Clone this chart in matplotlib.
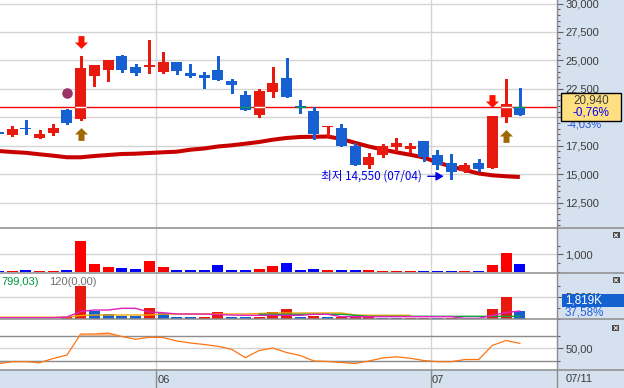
import numpy as np
import matplotlib
matplotlib.use("Agg")
import matplotlib.pyplot as plt
from matplotlib.patches import Rectangle
from matplotlib.lines import Line2D
from matplotlib.path import Path
from matplotlib.transforms import offset_copy
from matplotlib.ticker import FixedLocator, FuncFormatter

plt.rcParams['font.family'] = ['Liberation Sans', 'DejaVu Sans']

# trading days (2022)
dates = ["05/16", "05/17", "05/18", "05/19", "05/20", "05/23", "05/24", "05/25", "05/26", "05/27", "05/30", "05/31",
         "06/02", "06/03", "06/07", "06/08", "06/09", "06/10", "06/13", "06/14", "06/15", "06/16", "06/17",
         "06/20", "06/21", "06/22", "06/23", "06/24", "06/27", "06/28", "06/29", "06/30",
         "07/01", "07/04", "07/05", "07/06", "07/07", "07/08", "07/11"]

opens = [18700, 18450, 19050, 18210, 18650, 20640, 19880, 23630, 24160, 25390, 24420, 24420, 23980,
         24860, 23890, 23720, 24160, 23220, 21960, 20200, 22220, 23460, 20940, 20550, 19120, 19060,
         17500, 15830, 16710, 17420, 17190, 17920, 16710, 16010, 15310, 16010, 15570, 20050, 20940]
highs = [18700, 19230, 19760, 18880, 19410, 20760, 25390, 24600, 25040, 25480, 24690, 26800, 25740,
         24860, 24690, 24010, 25390, 23340, 22340, 22460, 24420, 25210, 21520, 20930, 19240, 19410,
         17720, 16840, 17650, 18210, 17770, 17920, 17150, 16800, 16010, 16360, 20140, 23390, 22600]
lows = [18550, 18360, 18530, 18210, 18470, 19410, 19760, 22750, 23220, 24010, 23720, 23920, 23920,
        23830, 23540, 22600, 23280, 22160, 20640, 20030, 21790, 21790, 20400, 18120, 18360, 17500,
        15830, 15570, 16540, 17070, 16980, 16190, 15480, 14550, 15220, 15310, 15570, 19610, 20230]
closes = [18550, 18970, 18950, 18530, 19060, 19530, 24330, 24600, 25040, 24160, 23920, 24620, 24860,
          24100, 23630, 23480, 23280, 22870, 20640, 22340, 23020, 21790, 20940, 18560, 19240, 17500,
          15830, 16540, 17500, 17770, 17500, 16540, 15830, 15220, 15830, 15480, 20140, 21170, 20230]
ma_line = [17038, 16950, 16880, 16748, 16625, 16485, 16485, 16599, 16687, 16775, 16801, 16863, 16924,
           16977, 17153, 17258, 17434, 17539, 17680, 17829, 18031, 18181, 18269, 18286, 18313, 18093,
           17759, 17434, 17170, 16924, 16713, 16467, 16027, 15675, 15368, 15060, 14902, 14814, 14753]
cur_price = 20940
cur_change = "-0,76%"
ma_change = "-4,03%"

down_signals = [6, 36]
up_signals = [6, 37]
dot_signals = [5]

volume = [58, 58, 116, 58, 58, 116, 1800, 450, 290, 215, 175, 640, 290, 116, 116, 116, 410, 116, 116,
          175, 350, 520, 116, 175, 116, 116, 116, 116, 58, 58, 58, 58, 58, 58, 58, 58, 390, 1105, 450]

trade = [0, 0, 0, 0, 0, 455, 7500, 1820, 1136, 682, 682, 2432, 1364, 386, 386, 386, 1455, 386, 386,
         386, 1523, 2205, 386, 614, 386, 386, 386, 386, 227, 227, 227, 227, 227, 227, 0, 0, 2205, 4930, 1819]
trade_dir = "rrrrrrrbbbbrbbbrrbbrrrbrbrrrbbrrbrrrrrb"
trade_magenta = [227, 227, 227, 227, 227, 386, 1637, 1978, 1978, 2364, 2364, 1523, 1364, 1068, 1068, 1068,
                 955, 841, 773, 773, 773, 773, 773, 1000, 1000, 455, 455, 455, 455, 455, 455, 455, 455,
                 455, 90, 90, 727, 1409, 1750]
nan = np.nan
trade_orange = [341, 341, 341, 341, 341, 386, 727, 841, 841, 841, 841, 841, 1068, 1068, 1068, 1068, 1068,
                1068, 1068, 1182, 1296, 1296, 1296, 1296, 1296, 1296, 841, 773, 773, 773, 773,
                nan, nan, nan, nan, nan, nan, nan, nan]
trade_green = [nan] * 19 + [1000, 1000, 1000, 1000, 1000, 1000, 1000, 773] + [545] * 12
trade_last = "1,819K"
trade_pct = "37,58%"
trade_text1 = "799,03)"
trade_text2 = "120(0,00)"

osc = [13.0, 17.8, 17.8, 15.4, 25.5, 33.9, 84.3, 84.3, 86.7, 78.3, 71.6, 76.4, 75.9, 67.5, 62.7, 59.1,
       54.8, 47.6, 27.4, 44.7, 50.7, 39.9, 32.7, 19.5, 18.3, 15.9, 13.5, 19.5, 26.7, 29.6, 26.2, 20.7,
       17.8, 17.8, 23.1, 23.1, 57.0, 68.7, 62.0]

W, H = 624, 388
PANEL = "#d5e1ee"
RED, BLUE = "#e8190f", "#1660d2"
BORDER = "#8c8c8c"
GRID = "#d4d4d4"
LBL = "#3c3c3c"

fig = plt.figure(figsize=(W / 100, H / 100), dpi=100)


def rect(x0, y0, x1, y1):
    return [x0 / W, 1 - y1 / H, (x1 - x0) / W, (y1 - y0) / H]


def fx(x):
    return x / W


def fy(y):
    return 1 - y / H


fig.patches.append(Rectangle((fx(557), 0), 1 - fx(557), 1, transform=fig.transFigure,
                             fc=PANEL, ec="none", zorder=-10))

ax_p = fig.add_axes(rect(0, 0, 557, 228.3))
ax_v = fig.add_axes(rect(0, 228.3, 557, 272.7), sharex=ax_p)
ax_t = fig.add_axes(rect(0, 272.7, 557, 319.3), sharex=ax_p)
ax_o = fig.add_axes(rect(0, 319.3, 557, 370.3), sharex=ax_p)
ax_d = fig.add_axes(rect(0, 370.3, 557, 388), sharex=ax_p)
ax_d.set_facecolor(PANEL)


def style(ax, major, minor, fmt):
    for s in ax.spines.values():
        s.set_visible(False)
    ax.tick_params(axis="x", which="both", bottom=False, labelbottom=False)
    ax.yaxis.tick_right()
    ax.yaxis.set_major_locator(FixedLocator(major))
    ax.yaxis.set_minor_locator(FixedLocator(minor))
    ax.yaxis.set_major_formatter(FuncFormatter(fmt))
    ax.tick_params(axis="y", which="major", length=4.3, width=0.8, color="#606060", pad=1.8,
                   labelsize=8, labelcolor=LBL)
    ax.tick_params(axis="y", which="minor", length=2.2, width=0.8, color="#606060")


idx = np.arange(len(dates))
o, h, l, c = (np.array(a, dtype=float) for a in (opens, highs, lows, closes))
up = c > o
tie = c == o
prev = np.r_[c[0], c[:-1]]
up[tie] = c[tie] >= prev[tie]
ccol = np.where(up, RED, BLUE)

ax_p.set_xlim(0.12, 40.71)

# month boundaries
bounds = [(i - 0.5, dates[i][:2]) for i in range(1, len(dates)) if dates[i][:2] != dates[i - 1][:2]]

# ---- price panel
style(ax_p, np.arange(12500, 30001, 2500), np.arange(10500, 30501, 500), lambda v, p: f"{v:,.0f}")
ax_p.set_ylim(10243, 30311)
ax_p.grid(axis="y", which="major", color=GRID, lw=1)
ax_p.set_axisbelow(True)
for b, _ in bounds:
    for ax in (ax_p, ax_v, ax_t, ax_o):
        ax.axvline(b, color=GRID, lw=1, zorder=0)

ax_p.axhline(cur_price, color="#ff0000", lw=1.0, zorder=1)
ax_p.plot(idx, ma_line, color="#c80000", lw=2.9, solid_capstyle="butt", zorder=2)
ax_p.vlines(idx, l, h, colors=ccol, lw=0.8, zorder=3, antialiased=False)
body_lo = np.minimum(o, c)
body_h = np.maximum(np.abs(c - o), 90)
ax_p.bar(idx, body_h, bottom=body_lo, width=0.8, color=ccol, lw=0, zorder=3)
hit = (body_lo <= cur_price) & (body_lo + body_h >= cur_price)
ax_p.hlines([cur_price] * hit.sum(), idx[hit] - 0.4, idx[hit] + 0.4,
            colors=np.where(up[hit], "white", "#00a050"), lw=1.0, zorder=4)

arrow_down = Path([(-3, 6.35), (3, 6.35), (3, 0), (6.5, 0), (0, -6.35), (-6.5, 0), (-3, 0), (-3, 6.35)])
arrow_up = Path([(x, -y) for x, y in arrow_down.vertices])
t_down = offset_copy(ax_p.transData, fig=fig, x=0, y=14.4, units="dots")
t_up = offset_copy(ax_p.transData, fig=fig, x=0, y=-14.4, units="dots")
t_dot = offset_copy(ax_p.transData, fig=fig, x=0, y=15.4, units="dots")
ax_p.plot(down_signals, h[down_signals], ls="none", marker=arrow_down, ms=9.4, color="#ff1000",
          mew=0, transform=t_down, zorder=5)
ax_p.plot(up_signals, l[up_signals], ls="none", marker=arrow_up, ms=9.4, color="#a06800",
          mew=0, transform=t_up, zorder=5)
ax_p.plot(dot_signals, h[dot_signals], ls="none", marker="o", ms=7.6, color="#9c3366",
          mew=0, transform=t_dot, zorder=5)

i_low = int(np.argmin(l))
ax_p.annotate(f"최저 {l[i_low]:,.0f} ({dates[i_low]})", xy=(i_low, l[i_low]),
              xycoords=offset_copy(ax_p.transData, fig=fig, x=-7.5, y=3, units="dots"),
              xytext=(-21.5, 0), textcoords="offset pixels", ha="right", va="center",
              color="#0000e6", fontsize=8.4, family=["Noto Sans CJK KR", "DejaVu Sans"],
              arrowprops=dict(arrowstyle="-|>,head_length=0.45,head_width=0.26", color="#0000e6",
                              lw=1, shrinkA=2, shrinkB=0, mutation_scale=10), zorder=6)

# ---- volume panel
style(ax_v, [1000], [0, 500, 1500], lambda v, p: f"{v:,.0f}")
ax_v.set_ylim(-58, 2523)
ax_v.grid(axis="y", which="major", color=GRID, lw=1)
ax_v.set_axisbelow(True)
ax_v.bar(idx, volume, width=0.8, color=np.where(up, "#ff0000", "#0000ff"), lw=0, zorder=2)

# ---- trade panel
style(ax_t, [5000], [0, 2500, 7500], lambda v, p: f"{v:,.0f}K")
ax_t.set_ylim(-136, 10456)
ax_t.grid(axis="y", which="major", color=GRID, lw=1)
ax_t.set_axisbelow(True)
ax_t.bar(idx, trade, width=0.8, color=[RED if d == "r" else BLUE for d in trade_dir], lw=0, zorder=2)
ax_t.plot(idx, trade_orange, color="#f0a800", lw=1.0, zorder=3)
ax_t.plot(idx, trade_green, color="#10a040", lw=1.0, zorder=3)
ax_t.plot(idx, trade_magenta, color="#e020c0", lw=1.0, zorder=3)

# ---- oscillator panel
osc_a = np.array(osc)
style(ax_o, [50], [20, 80], lambda v, p: f"{v:.2f}".replace(".", ","))
ax_o.set_ylim(-2.8, 119.6)
ax_o.axhline(50, color=GRID, lw=1, zorder=0)
ax_o.fill_between(idx, osc_a, 80, where=osc_a > 80, interpolate=True, color="#f6b990", lw=0, zorder=1)
ax_o.fill_between(idx, osc_a, 20, where=osc_a < 20, interpolate=True, color="#a9d6ea", lw=0, zorder=1)
ax_o.axhline(80, color=BORDER, lw=1, zorder=2)
ax_o.axhline(20, color=BORDER, lw=1, zorder=2)
ax_o.plot(idx, osc_a, color="#ff7410", lw=0.9, zorder=3)

# ---- date strip
for s in ax_d.spines.values():
    s.set_visible(False)
ax_d.set_xticks([])
ax_d.set_yticks([])
t_month = offset_copy(ax_d.get_xaxis_transform(), fig=fig, x=1.5, y=0, units="dots")
for b, m in bounds:
    ax_d.axvline(b, color=BORDER, lw=1)
    ax_d.text(b, 0.45, m, transform=t_month, ha="left", va="center", fontsize=8, color=LBL)

# ---- frame lines
for yy in (228.3, 272.7, 319.3, 370.3):
    fig.add_artist(Line2D([0, 1], [fy(yy), fy(yy)], transform=fig.transFigure, color=BORDER, lw=1.1))
fig.add_artist(Line2D([fx(557), fx(557)], [0, 1], transform=fig.transFigure, color=BORDER, lw=1))

# ---- right panel labels
fig.text(fx(566), fy(378.8), dates[-1], ha="left", va="center", fontsize=8, color=LBL)
fig.text(1.5 / W, fy(282), trade_text1, ha="left", va="center", fontsize=8, color="#00963c")
fig.text(fx(49), fy(282), trade_text2, ha="left", va="center", fontsize=8, color="#707070")

y_cur = ax_p.transData.transform((0, cur_price))[1] / H
fig.text(fx(566.5), y_cur - 18 / H, ma_change, ha="left", va="center", fontsize=8, color="#2050d8", zorder=4)
fig.add_artist(Rectangle((fx(561.3), y_cur - 14 / H), 59.4 / W, 28 / H, transform=fig.transFigure,
                         fc="#ffe080", ec="black", lw=1, zorder=5))
fig.text(fx(591), y_cur + 6.2 / H, f"{cur_price:,}", ha="center", va="center", fontsize=8.4,
         color="#404040", zorder=6)
fig.text(fx(591), y_cur - 5.4 / H, cur_change, ha="center", va="center", fontsize=8.4,
         color="#0000ff", zorder=6)

fig.add_artist(Rectangle((fx(562.3), fy(306.7)), (624 - 562.3) / W, 12.7 / H, transform=fig.transFigure,
                         fc="#1560d0", ec="none", zorder=5))
fig.text(fx(565), fy(300.4), trade_last, ha="left", va="center", fontsize=8.4, color="white", zorder=6)
fig.text(fx(565), fy(312.6), trade_pct, ha="left", va="center", fontsize=8.4, color="#2060e0", zorder=6)

# close buttons
for bx, by in ((616, 235.3), (616, 280.2), (615.8, 328)):
    fig.add_artist(Rectangle((fx(bx - 3.5), fy(by + 3)), 7 / W, 6 / H, transform=fig.transFigure,
                             fc="#4a4a4a", ec="none", zorder=5))
    fig.add_artist(Line2D([fx(bx - 1.5), fx(bx + 1.5)], [fy(by + 1.5), fy(by - 1.5)],
                          transform=fig.transFigure, color="white", lw=0.7, zorder=6))
    fig.add_artist(Line2D([fx(bx - 1.5), fx(bx + 1.5)], [fy(by - 1.5), fy(by + 1.5)],
                          transform=fig.transFigure, color="white", lw=0.7, zorder=6))

fig.savefig("out.png", dpi=100)
